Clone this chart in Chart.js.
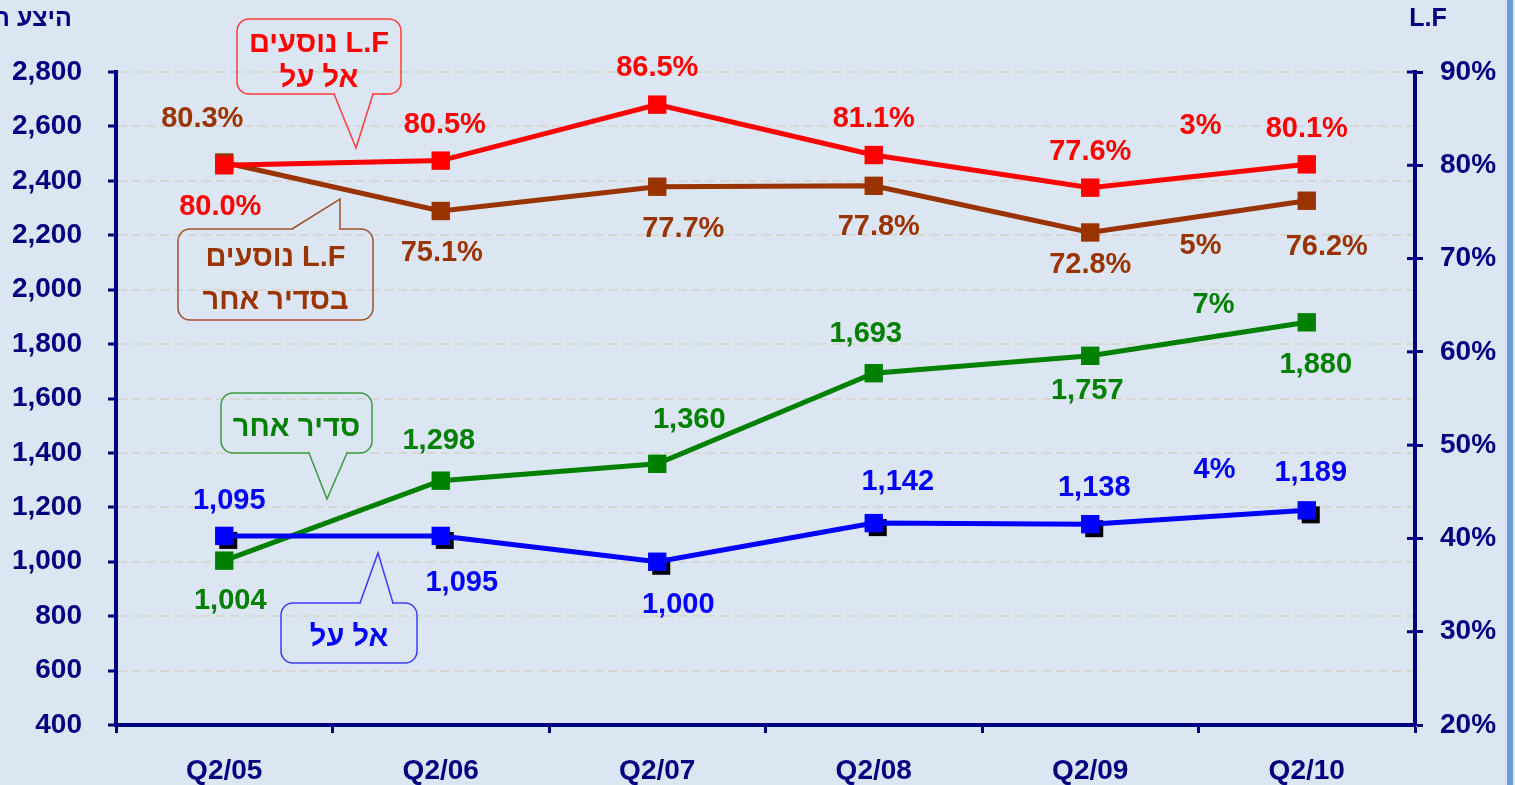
<!DOCTYPE html>
<html>
<head>
<meta charset="utf-8">
<script src="https://cdn.jsdelivr.net/npm/chart.js@4"></script>
<style>
  body { margin: 0; background: #dce6f2; }
  canvas { display: block; }
</style>
</head>
<body>
<canvas id="lfChart" width="1515" height="785"></canvas>
<script>
// data
const quarters = ['Q2/05', 'Q2/06', 'Q2/07', 'Q2/08', 'Q2/09', 'Q2/10'];
const lfElAl = [80.0, 80.5, 86.5, 81.1, 77.6, 80.1];
const lfOther = [80.3, 75.1, 77.7, 77.8, 72.8, 76.2];
const seatsOther = [1004, 1298, 1360, 1693, 1757, 1880];
const seatsElAl = [1095, 1095, 1000, 1142, 1138, 1189];
const growthPct = [3, 5, 7, 4]; // last year change: red, brown, green, blue
const leftTicks = [400, 2800, 200];
const rightTicks = [20, 90, 10];

const NAVY = '#000080';
const BG = '#dce6f2';
const RED = '#ff0000', BROWN = '#993300', GREEN = '#008000', BLUE = '#0000ff';
const FONT = '"Liberation Sans", Arial, sans-serif';

// label placement (px offset from point)
const labelOffsets = [
  [[-4, 42], [4, -36], [0, -37], [0, -36], [0, -36], [0, -35]],
  [[-22, -43], [1, 42], [26, 42], [5, 41], [0, 33], [20, 46]],
  [[6, 40], [-2, -40], [32, -44], [-8, -39], [-3, 35], [9, 43]],
  [[5, -35], [21, 47], [21, 43], [24, -41], [4, -36], [4, -37]]
];
const growthOffsets = [[2, -50], [2, 29], [15, -34], [16, -47]];

const fmtNum = v => v.toLocaleString('en-US');
const fmtPct = v => v.toFixed(1) + '%';

function callout(ctx, b, p, color, textColor, lines, fontSize) {
  ctx.save();
  ctx.strokeStyle = color;
  ctx.lineWidth = 1.5;
  ctx.beginPath();
  ctx.roundRect(b.x, b.y, b.w, b.h, 12);
  ctx.stroke();
  const edgeY = p.top ? b.y : b.y + b.h;
  ctx.fillStyle = BG;
  ctx.fillRect(p.b1 + 1, edgeY - 2, p.b2 - p.b1 - 2, 4);
  ctx.beginPath();
  ctx.moveTo(p.b1, edgeY);
  ctx.lineTo(p.tx, p.ty);
  ctx.lineTo(p.b2, edgeY);
  ctx.stroke();
  ctx.fillStyle = textColor;
  ctx.font = 'bold ' + fontSize + 'px ' + FONT;
  ctx.textAlign = 'center';
  ctx.textBaseline = 'middle';
  ctx.direction = 'rtl';
  const cx = b.x + b.w / 2;
  const step = b.h / (lines.length + 0.1);
  lines.forEach((t, i) => {
    ctx.fillText(t, cx, b.y + step * (i + 0.55) + 5);
  });
  ctx.restore();
}

const decorPlugin = {
  id: 'decor',
  beforeDraw(chart) {
    const ctx = chart.ctx;
    ctx.save();
    ctx.fillStyle = BG;
    ctx.fillRect(0, 0, chart.width, chart.height);
    ctx.fillStyle = '#6a9ccf';
    ctx.fillRect(1507, 0, 6, chart.height);
    ctx.restore();
  },
  beforeDatasetDraw(chart, args) {
    // black shadow squares under the El Al seats markers
    if (args.index !== 3) return;
    const ctx = chart.ctx;
    ctx.save();
    ctx.fillStyle = '#000';
    args.meta.data.forEach(pt => {
      ctx.fillRect(pt.x - 5, pt.y - 4, 18, 17);
    });
    ctx.restore();
  },
  afterDatasetsDraw(chart) {
    const ctx = chart.ctx;
    ctx.save();
    ctx.font = 'bold 29px ' + FONT;
    ctx.textAlign = 'center';
    ctx.textBaseline = 'middle';
    chart.data.datasets.forEach((ds, di) => {
      const meta = chart.getDatasetMeta(di);
      ctx.fillStyle = ds.borderColor;
      meta.data.forEach((pt, i) => {
        const o = labelOffsets[di][i];
        const txt = ds.yAxisID === 'y1' ? fmtPct(ds.data[i]) : fmtNum(ds.data[i]);
        ctx.fillText(txt, pt.x + o[0], pt.y + o[1]);
      });
      // growth label on the last segment
      const a = meta.data[meta.data.length - 2], b = meta.data[meta.data.length - 1];
      const go = growthOffsets[di];
      ctx.fillText(growthPct[di] + '%', (a.x + b.x) / 2 + go[0], (a.y + b.y) / 2 + go[1]);
    });
    ctx.restore();
  },
  afterDraw(chart) {
    const ctx = chart.ctx;
    const y1 = chart.scales.y1;
    ctx.save();
    // inner half of right axis ticks
    ctx.strokeStyle = NAVY;
    ctx.lineWidth = 3;
    y1.ticks.forEach(t => {
      const py = y1.getPixelForValue(t.value);
      ctx.beginPath();
      ctx.moveTo(y1.left - 8, py);
      ctx.lineTo(y1.left, py);
      ctx.stroke();
    });
    ctx.fillStyle = NAVY;
    ctx.font = 'bold 25px ' + FONT;
    ctx.textBaseline = 'middle';
    ctx.direction = 'rtl';
    ctx.textAlign = 'right';
    ctx.fillText('היצע ה', 72, 19);
    ctx.direction = 'ltr';
    ctx.textAlign = 'center';
    ctx.fillText('L.F', 1428, 19);
    ctx.restore();

    callout(ctx, {x: 237, y: 19, w: 164, h: 75}, {top: false, b1: 334, b2: 373, tx: 356, ty: 148},
      '#ff3b3b', RED, ['L.F נוסעים', 'אל על'], 29);
    callout(ctx, {x: 178, y: 229, w: 195, h: 91}, {top: true, b1: 292, b2: 340, tx: 340, ty: 199},
      '#a0522d', BROWN, ['L.F נוסעים', 'בסדיר אחר'], 29);
    callout(ctx, {x: 221, y: 393, w: 151, h: 60}, {top: false, b1: 309, b2: 347, tx: 327, ty: 499},
      '#3c9a3c', GREEN, ['סדיר אחר'], 29);
    callout(ctx, {x: 281, y: 603, w: 136, h: 60}, {top: true, b1: 360, b2: 393, tx: 378, ty: 553},
      '#3b3bff', BLUE, ['אל על'], 29);
  }
};

const ctx = document.getElementById('lfChart').getContext('2d');

const tickFont = { family: FONT, size: 28, weight: 'bold' };

function series(label, data, color, axis, order) {
  return {
    label: label,
    data: data,
    yAxisID: axis,
    borderColor: color,
    backgroundColor: color,
    borderWidth: 5,
    pointStyle: 'rect',
    pointRadius: 13,
    pointBorderWidth: 0,
    pointBackgroundColor: color,
    tension: 0,
    order: order
  };
}

new Chart(ctx, {
  type: 'line',
  data: {
    labels: quarters,
    datasets: [
      series('L.F אל על', lfElAl, RED, 'y1', 0),
      series('L.F סדיר אחר', lfOther, BROWN, 'y1', 1),
      series('סדיר אחר', seatsOther, GREEN, 'y', 3),
      series('אל על', seatsElAl, BLUE, 'y', 2)
    ]
  },
  options: {
    responsive: false,
    animation: false,
    layout: { padding: { top: 72 } },
    plugins: {
      legend: { display: false },
      tooltip: { enabled: false }
    },
    scales: {
      x: {
        type: 'category',
        offset: true,
        afterFit: s => { s.height = 60; },
        grid: {
          offset: true,
          drawOnChartArea: false,
          color: NAVY,
          tickLength: 8,
          tickWidth: 3
        },
        border: { color: NAVY, width: 4 },
        ticks: { color: NAVY, font: tickFont, padding: 21, maxRotation: 0 }
      },
      y: {
        position: 'left',
        min: leftTicks[0],
        max: leftTicks[1],
        afterFit: s => { s.width = 116; },
        grid: {
          color: 'rgba(210,200,185,0.55)',
          lineWidth: 2,
          tickColor: NAVY,
          tickWidth: 3,
          tickLength: 8,
          tickBorderDash: []
        },
        border: { color: NAVY, width: 4, dash: [9, 5] },
        ticks: {
          stepSize: leftTicks[2],
          color: NAVY,
          font: tickFont,
          padding: 26,
          callback: v => fmtNum(v)
        }
      },
      y1: {
        position: 'right',
        min: rightTicks[0],
        max: rightTicks[1],
        afterFit: s => { s.width = 100; },
        grid: {
          drawOnChartArea: false,
          color: NAVY,
          tickWidth: 3,
          tickLength: 8
        },
        border: { color: NAVY, width: 4 },
        ticks: {
          stepSize: rightTicks[2],
          color: NAVY,
          font: tickFont,
          padding: 17,
          callback: v => v + '%'
        }
      }
    }
  },
  plugins: [decorPlugin]
});
</script>
</body>
</html>
